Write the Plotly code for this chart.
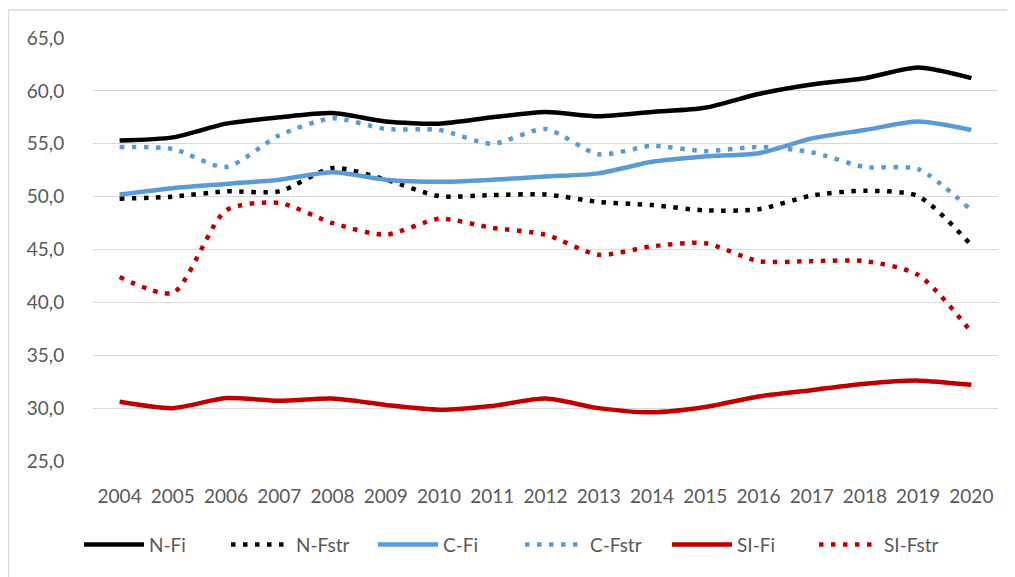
import plotly.graph_objects as go

years = list(range(2004, 2021))

n_fi = [55.3, 55.6, 56.9, 57.5, 57.9, 57.1, 56.9, 57.5, 58.0, 57.6, 58.0, 58.4, 59.7, 60.6, 61.2, 62.2, 61.2]
n_fstr = [49.8, 50.0, 50.5, 50.5, 52.7, 51.6, 50.05, 50.15, 50.2, 49.5, 49.2, 48.7, 48.8, 50.1, 50.55, 50.05, 45.4]
c_fi = [50.2, 50.8, 51.2, 51.6, 52.3, 51.6, 51.4, 51.6, 51.9, 52.2, 53.3, 53.8, 54.1, 55.5, 56.3, 57.1, 56.3]
c_fstr = [54.7, 54.5, 52.8, 55.8, 57.4, 56.4, 56.3, 55.0, 56.4, 54.0, 54.8, 54.3, 54.7, 54.2, 52.8, 52.6, 48.7]
si_fi = [30.6, 30.0, 30.95, 30.7, 30.9, 30.3, 29.85, 30.2, 30.9, 30.0, 29.6, 30.1, 31.1, 31.7, 32.3, 32.6, 32.2]
si_fstr = [42.4, 40.9, 48.7, 49.4, 47.5, 46.4, 47.9, 47.05, 46.4, 44.5, 45.3, 45.6, 43.9, 43.9, 43.9, 42.6, 37.2]

series = [
    ("N-Fi", n_fi, "#000000", "solid"),
    ("N-Fstr", n_fstr, "#000000", "dot"),
    ("C-Fi", c_fi, "#5B9BD5", "solid"),
    ("C-Fstr", c_fstr, "#5B9BD5", "dot"),
    ("SI-Fi", si_fi, "#C00000", "solid"),
    ("SI-Fstr", si_fstr, "#C00000", "dot"),
]

fig = go.Figure()
for name, vals, color, style in series:
    if style == "solid":
        line = dict(color=color, width=4.5, shape="spline", smoothing=0.7)
    else:
        line = dict(color=color, width=4.5, dash="4.5px,7.5px", shape="spline", smoothing=0.7)
    fig.add_trace(go.Scatter(x=years, y=vals, mode="lines", name=name, line=line))

font_color = "#595959"
# page body has an 8px margin, so the figure sits at (8, 8) in the window
W, H = 1007, 569
ml, mr, mt, mb = 85, 17, 30, 116
pw, ph = W - ml - mr, H - mt - mb

fig.update_layout(
    width=W, height=H,
    margin=dict(l=ml, r=mr, t=mt, b=mb, pad=0, autoexpand=False),
    paper_bgcolor="white", plot_bgcolor="white",
    separators=", ",
    font=dict(family="Lato, 'Open Sans', sans-serif", size=19, color=font_color),
    showlegend=True,
    legend=dict(orientation="h", x=(76 - ml - 5) / pw, xanchor="left", y=-0.198, yanchor="middle",
                font=dict(size=19, color=font_color), entrywidth=72, itemwidth=60,
                bgcolor="rgba(0,0,0,0)"),
    xaxis=dict(range=[2003.5, 2020.5], tickmode="array", tickvals=years,
               ticktext=[str(y) for y in years], showgrid=False, zeroline=False,
               showline=False, ticks="outside", ticklen=18, tickcolor="rgba(0,0,0,0)",
               tickfont=dict(size=19, color=font_color)),
    yaxis=dict(range=[25, 65], tickmode="linear", tick0=25, dtick=5, tickformat=".1f",
               showgrid=True, gridcolor="#D9D9D9", gridwidth=1.3, zeroline=False,
               showline=False, ticks="outside", ticklen=24, tickcolor="rgba(0,0,0,0)",
               tickfont=dict(size=19, color=font_color)),
    shapes=[dict(type="rect", xref="paper", yref="paper",
                 x0=(0.5 - ml) / pw, x1=(1005 - ml) / pw,
                 y0=(H - mb - 575) / ph, y1=(H - mb - 2) / ph,
                 line=dict(color="#D9D9D9", width=1.3), fillcolor="rgba(0,0,0,0)", layer="below")],
)

fig.write_html("out.html")
